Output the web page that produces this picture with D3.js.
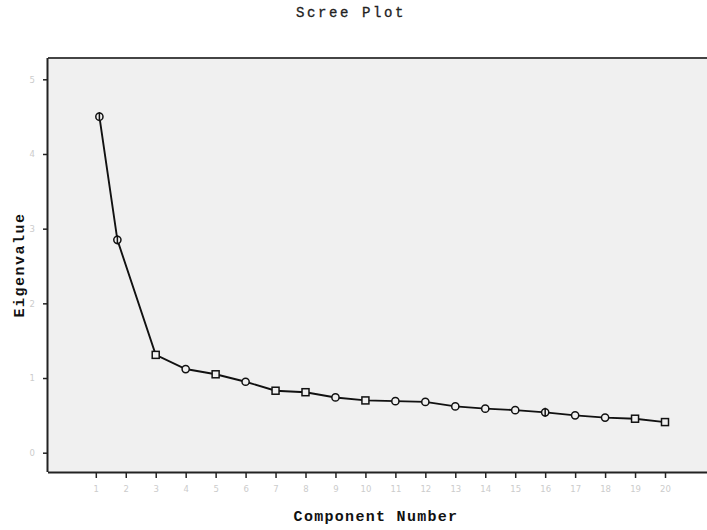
<!DOCTYPE html>
<html><head><meta charset="utf-8">
<script src="https://cdn.jsdelivr.net/npm/d3@7"></script>
<style>body{margin:0;background:#fff;} svg{display:block;}</style>
</head><body>
<script>
const componentPos = [1.12, 1.72, 3, 4, 5, 6, 7, 8, 9, 10, 11, 12, 13, 14, 15, 16, 17, 18, 19, 20];
const eigenvalues = [4.50, 2.85, 1.31, 1.12, 1.05, 0.95, 0.83, 0.81, 0.74, 0.70, 0.69, 0.68, 0.62, 0.59, 0.57, 0.54, 0.50, 0.47, 0.455, 0.41];
const markerKinds = ["cv","cv","s","c","s","c","s","s","c","s","c","c","c","c","c","cv","c","c","s","s"];
const xTicks = d3.range(1, 21);
const yTicks = [0, 1, 2, 3, 4, 5];

const W = 707, H = 530;
const svg = d3.select("body").append("svg").attr("width", W).attr("height", H);
const x = d3.scaleLinear().domain([1, 20]).range([95.8, 665]);
const y = d3.scaleLinear().domain([0, 5]).range([452.7, 79.3]);
const L = 48, T = 58, B = 472;

svg.append("rect").attr("x", L).attr("y", T).attr("width", W - L + 5).attr("height", B - T)
  .attr("fill", "#f0f0f0");
svg.append("line").attr("x1", L).attr("x2", W + 5).attr("y1", T).attr("y2", T)
  .attr("stroke", "#444").attr("stroke-width", 2);

const font = "'Liberation Mono', 'DejaVu Sans Mono', monospace";

const xAxis = svg.append("g").attr("transform", `translate(0,${B})`)
  .call(d3.axisBottom(x).tickValues(xTicks).tickSize(6).tickPadding(8).tickFormat(d3.format("d")));
xAxis.select(".domain").attr("d", `M${L},0.5H${W + 5}`).attr("stroke", "#222").attr("stroke-width", 2);
xAxis.selectAll(".tick line").attr("stroke", "#222").attr("stroke-width", 1.5);
xAxis.selectAll("text").attr("fill", "#cccccc").attr("font-family", "'DejaVu Sans', sans-serif").attr("font-size", 8.5);

const yAxis = svg.append("g").attr("transform", `translate(${L},0)`)
  .call(d3.axisLeft(y).tickValues(yTicks).tickSize(5).tickPadding(8).tickFormat(d3.format("d")));
yAxis.select(".domain").attr("d", `M-0.5,${T}V${B}`).attr("stroke", "#222").attr("stroke-width", 2);
yAxis.selectAll(".tick line").attr("stroke", "#222").attr("stroke-width", 1.5);
yAxis.selectAll("text").attr("fill", "#cccccc").attr("font-family", "'DejaVu Sans', sans-serif").attr("font-size", 8.5);

const pts = componentPos.map((c, i) => ({c, v: eigenvalues[i], k: markerKinds[i]}));
svg.append("path").datum(pts)
  .attr("d", d3.line().x(d => x(d.c)).y(d => y(d.v)))
  .attr("fill", "none").attr("stroke", "#111").attr("stroke-width", 1.9);

const mk = svg.append("g").selectAll("g").data(pts).join("g")
  .attr("transform", d => `translate(${x(d.c)},${y(d.v)})`);
mk.filter(d => d.k !== "s").append("circle").attr("r", 3.6)
  .attr("fill", "#f0f0f0").attr("stroke", "#111").attr("stroke-width", 1.5);
mk.filter(d => d.k === "s").append("rect").attr("x", -3.5).attr("y", -3.5).attr("width", 7).attr("height", 7)
  .attr("fill", "#f0f0f0").attr("stroke", "#111").attr("stroke-width", 1.5);
mk.filter(d => d.k === "cv").append("line").attr("y1", -4.5).attr("y2", 4.5)
  .attr("stroke", "#111").attr("stroke-width", 1.5);

svg.append("text").attr("x", 351).attr("y", 17).attr("text-anchor", "middle")
  .attr("font-family", font).attr("font-size", 14).attr("font-weight", "normal").attr("letter-spacing", 2.6)
  .attr("fill", "#222").attr("stroke", "#222").attr("stroke-width", 0.3).text("Scree Plot");
svg.append("text").attr("x", 376).attr("y", 521).attr("text-anchor", "middle")
  .attr("font-family", font).attr("font-size", 15).attr("font-weight", "bold").attr("letter-spacing", 1.3)
  .attr("fill", "#111").text("Component Number");
svg.append("text").attr("transform", "translate(24,265) rotate(-90)").attr("text-anchor", "middle")
  .attr("font-family", font).attr("font-size", 15).attr("font-weight", "bold").attr("letter-spacing", 1.5)
  .attr("fill", "#111").text("Eigenvalue");
</script>
</body></html>
